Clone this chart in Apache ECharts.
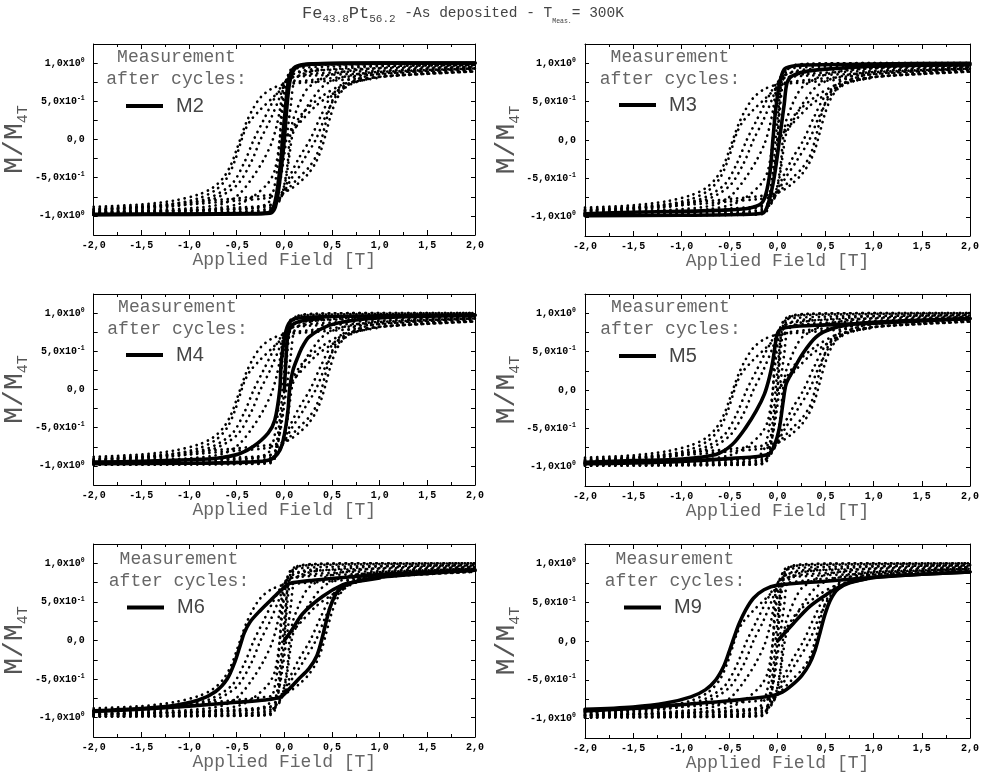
<!DOCTYPE html>
<html><head><meta charset="utf-8">
<script src="https://cdn.jsdelivr.net/npm/echarts@6/dist/echarts.min.js"></script>
<style>html,body{margin:0;padding:0;background:#fff}#c{width:982px;height:778px}</style>
</head><body><div id="c"></div>
<script>
// ---------- text / ticks ----------
const yTickValues = [-1, -0.5, 0, 0.5, 1];
const yTickMantissa = ['-1,0x10', '-5,0x10', '0,0', '5,0x10', '1,0x10'];
const yTickExponent = ['0', '-1', '', '-1', '0'];
const xAxisTitle = 'Applied Field [T]';
const panelMeasurements = ['M2', 'M3', 'M4', 'M5', 'M6', 'M9'];
const allMeasurements = ['M2', 'M3', 'M4', 'M5', 'M6', 'M7', 'M8', 'M9'];

// ---------- data: [field T, M/M4T] ----------
const M2_desc = [[-2,-0.98],[-1,-0.975],[-0.4,-0.97],[-0.17,-0.96],[-0.12,-0.9],[-0.08,-0.7],[-0.035,-0.25],[-0.02,0],[0.01,0.4],[0.035,0.7],[0.07,0.88],[0.13,0.96],[0.3,0.99],[1,1.0],[2,1.0]];
const M2_asc  = [[-2,-0.985],[-1,-0.98],[-0.4,-0.975],[-0.15,-0.965],[-0.1,-0.9],[-0.065,-0.7],[-0.025,-0.3],[0,0],[0.025,0.4],[0.05,0.7],[0.085,0.88],[0.15,0.96],[0.35,0.99],[1,1.0],[2,1.0]];
const M3_desc = [[-2,-0.96],[-1.5,-0.94],[-1,-0.93],[-0.5,-0.91],[-0.3,-0.89],[-0.17,-0.83],[-0.12,-0.7],[-0.076,-0.4],[-0.048,0],[-0.02,0.38],[0.02,0.73],[0.07,0.92],[0.15,0.96],[0.25,0.975],[1,0.99],[2,1.0]];
const M3_asc  = [[-2,-0.985],[-1,-0.98],[-0.4,-0.97],[-0.15,-0.95],[-0.09,-0.8],[-0.035,-0.49],[0.02,0],[0.07,0.47],[0.1,0.75],[0.16,0.84],[0.33,0.9],[0.6,0.93],[1,0.96],[2,0.98]];
const M4_desc = [[-2,-0.95],[-1.5,-0.94],[-1,-0.92],[-0.71,-0.9],[-0.47,-0.84],[-0.33,-0.75],[-0.17,-0.57],[-0.1,-0.4],[-0.048,0],[-0.031,0.38],[0.02,0.78],[0.08,0.91],[0.2,0.94],[0.5,0.955],[1,0.965],[2,0.975]];
const M4_asc  = [[-2,-0.97],[-1,-0.965],[-0.4,-0.95],[-0.15,-0.92],[-0.045,-0.79],[0.003,-0.57],[0.038,-0.27],[0.055,0],[0.09,0.25],[0.14,0.42],[0.19,0.56],[0.26,0.69],[0.47,0.84],[0.75,0.91],[1.2,0.95],[2,0.97]];
const M4_virgin = [[0,0],[0.015,0.35],[0.035,0.69],[0.08,0.84],[0.19,0.9],[0.4,0.93]];
const M5_desc = [[-2,-0.94],[-1.5,-0.92],[-0.99,-0.9],[-0.64,-0.84],[-0.47,-0.71],[-0.33,-0.49],[-0.22,-0.27],[-0.135,-0.05],[-0.083,0.17],[-0.048,0.38],[-0.01,0.69],[0.02,0.78],[0.125,0.82],[0.44,0.845],[1,0.87],[2,0.93]];
const M5_asc  = [[-2,-0.96],[-1.5,-0.95],[-1,-0.93],[-0.47,-0.89],[-0.1,-0.84],[-0.03,-0.71],[0.02,-0.49],[0.06,-0.14],[0.09,0.08],[0.16,0.25],[0.26,0.47],[0.4,0.69],[0.57,0.8],[0.85,0.87],[1.3,0.9],[2,0.93]];
const M6_desc = [[-2,-0.91],[-1.5,-0.88],[-1.2,-0.85],[-0.9,-0.77],[-0.72,-0.66],[-0.6,-0.5],[-0.52,-0.28],[-0.46,-0.05],[-0.42,0.1],[-0.36,0.24],[-0.26,0.38],[-0.12,0.55],[0,0.69],[0.06,0.74],[0.3,0.78],[0.75,0.83],[1.2,0.87],[2,0.91]];
const M6_asc  = [[-2,-0.92],[-1.5,-0.89],[-1,-0.85],[-0.5,-0.8],[-0.2,-0.77],[-0.04,-0.73],[0.05,-0.63],[0.15,-0.5],[0.26,-0.36],[0.34,-0.2],[0.39,0],[0.43,0.2],[0.48,0.43],[0.55,0.62],[0.65,0.72],[0.8,0.78],[1,0.82],[1.5,0.87],[2,0.91]];
const M6_virgin = [[0,0],[0.08,0.14],[0.194,0.35],[0.4,0.57],[0.61,0.72],[0.75,0.76],[1,0.81]];
const M7_desc = [[-2,-0.93],[-1.2,-0.88],[-0.75,-0.78],[-0.5,-0.6],[-0.35,-0.3],[-0.25,0],[-0.15,0.25],[-0.05,0.55],[0.02,0.78],[0.1,0.86],[0.3,0.9],[1,0.93],[2,0.95]];
const M7_asc  = [[-2,-0.96],[-1,-0.95],[-0.3,-0.93],[-0.12,-0.88],[-0.03,-0.75],[0.05,-0.5],[0.15,-0.25],[0.27,0],[0.38,0.3],[0.5,0.58],[0.7,0.8],[1,0.89],[2,0.95]];
const M8_desc = [[-2,-0.92],[-1.2,-0.86],[-0.8,-0.77],[-0.55,-0.58],[-0.42,-0.3],[-0.32,0],[-0.22,0.25],[-0.12,0.5],[-0.02,0.72],[0.05,0.8],[0.3,0.86],[1,0.9],[2,0.93]];
const M8_asc  = [[-2,-0.95],[-1,-0.93],[-0.3,-0.9],[-0.1,-0.84],[-0.02,-0.72],[0.08,-0.5],[0.2,-0.27],[0.33,0],[0.43,0.3],[0.55,0.58],[0.75,0.78],[1,0.86],[2,0.93]];
const M9_desc = [[-2,-0.88],[-1.5,-0.85],[-1.16,-0.8],[-0.9,-0.72],[-0.75,-0.63],[-0.64,-0.5],[-0.56,-0.33],[-0.5,-0.13],[-0.45,0.05],[-0.4,0.22],[-0.33,0.4],[-0.25,0.55],[-0.14,0.66],[0,0.72],[0.5,0.77],[1,0.82],[1.5,0.86],[2,0.89]];
const M9_asc  = [[-2,-0.9],[-1.5,-0.87],[-1,-0.82],[-0.5,-0.77],[-0.07,-0.71],[0.05,-0.66],[0.15,-0.57],[0.25,-0.45],[0.33,-0.3],[0.39,-0.12],[0.44,0.1],[0.49,0.33],[0.55,0.53],[0.63,0.67],[0.75,0.75],[1,0.82],[1.5,0.86],[2,0.89]];
const M9_virgin = [[0,0],[0.16,0.22],[0.33,0.44],[0.51,0.6],[0.71,0.74],[0.92,0.8]];

const branches = {
  M2: [M2_desc, M2_asc],
  M3: [M3_desc, M3_asc],
  M4: [M4_desc, M4_asc, M4_virgin],
  M5: [M5_desc, M5_asc],
  M6: [M6_desc, M6_asc, M6_virgin],
  M7: [M7_desc, M7_asc],
  M8: [M8_desc, M8_asc],
  M9: [M9_desc, M9_asc, M9_virgin]
};

// ---------- layout ----------
const grids = [
  {left: 91, top: 44, width: 384, height: 191},
  {left: 585, top: 44, width: 385, height: 192},
  {left: 91, top: 294, width: 384, height: 191},
  {left: 585, top: 294, width: 385, height: 192},
  {left: 91, top: 544, width: 384, height: 193},
  {left: 585, top: 544, width: 385, height: 194}
];
const noteCenterX = [176.5, 670, 177.5, 670.5, 179, 675];
const noteTopRel = [1.5, 1.5, 1.5, 1.5, 3.5, 3.5];
const legendLeft = [126, 619, 126, 619, 127, 624];
const legendLineY = [106, 105, 355, 356, 607.5, 607.5];

const mono = 'Liberation Mono';
const xAxes = [], yAxes = [], series = [], legends = [], graphics = [];

grids.forEach((g, i) => {
  const baseX = {
    gridIndex: i, type: 'value', min: -2, max: 2, interval: 0.5,
    axisLine: {show: true, onZero: false, lineStyle: {color: '#000', width: 1}},
    axisTick: {show: true, inside: true, length: 5, lineStyle: {color: '#000'}},
    minorTick: {show: true, splitNumber: 2, length: 3, lineStyle: {color: '#000'}},
    splitLine: {show: false}, minorSplitLine: {show: false}
  };
  xAxes.push(Object.assign({}, baseX, {
    position: 'bottom',
    name: xAxisTitle, nameLocation: 'middle', nameGap: 16,
    nameTextStyle: {fontFamily: mono, fontSize: 18, color: '#666'},
    axisLabel: {show: true, margin: 5, showMinLabel: true, showMaxLabel: true,
      fontFamily: mono, fontWeight: 'bold', fontSize: 10, color: '#000',
      formatter: v => v.toFixed(1).replace('.', ',')}
  }));
  xAxes.push(Object.assign({}, baseX, {position: 'top', axisLabel: {show: false}}));

  const baseY = {
    gridIndex: i, type: 'value', min: -1.25, max: 1.25, interval: 0.25,
    axisLine: {show: true, onZero: false, lineStyle: {color: '#000', width: 1}},
    axisTick: {show: true, inside: true, length: 4, lineStyle: {color: '#000'}},
    splitLine: {show: false}
  };
  yAxes.push(Object.assign({}, baseY, {
    position: 'left',
    name: '{a|M/M}{b|4T}', nameLocation: 'middle', nameGap: 38, nameRotate: 90,
    nameTextStyle: {rich: {
      a: {fontFamily: mono, fontSize: 28, color: '#555', lineHeight: 32},
      b: {fontFamily: mono, fontSize: 15, color: '#555', lineHeight: 15, verticalAlign: 'bottom'}
    }},
    axisLabel: {show: true, margin: 9, showMinLabel: true, showMaxLabel: true,
      formatter: v => {
        const k = yTickValues.findIndex(t => Math.abs(t - v) < 1e-6);
        if (k < 0) return '';
        return yTickExponent[k] ? `{m|${yTickMantissa[k]}}{s|${yTickExponent[k]}}` : `{m|${yTickMantissa[k]}}`;
      },
      rich: {
        m: {fontFamily: mono, fontWeight: 'bold', fontSize: 10, color: '#000', lineHeight: 13},
        s: {fontFamily: mono, fontWeight: 'bold', fontSize: 6.5, color: '#000', lineHeight: 7, verticalAlign: 'top'}
      }}
  }));
  yAxes.push(Object.assign({}, baseY, {position: 'right', axisLabel: {show: false}}));

  const hl = panelMeasurements[i];
  allMeasurements.forEach(m => {
    if (m === hl) return;
    branches[m].forEach((d, bi) => {
      series.push({
        type: 'line', name: `${m}-${i}-${bi}`, xAxisIndex: 2 * i, yAxisIndex: 2 * i,
        data: d, showSymbol: false, smooth: 0.3, silent: true, z: 2,
        color: '#000',
        lineStyle: {color: '#000', width: 2.7, type: [0.1, 6], cap: 'round'}
      });
    });
  });
  branches[hl].forEach(d => {
    series.push({
      type: 'line', name: hl, xAxisIndex: 2 * i, yAxisIndex: 2 * i,
      data: d, showSymbol: false, smooth: 0.3, silent: true, z: 5,
      color: '#000', itemStyle: {color: '#000'},
      lineStyle: {color: '#000', width: 3.6, cap: 'round', join: 'round'}
    });
  });

  legends.push({
    data: [hl], left: legendLeft[i], top: legendLineY[i] - 15, icon: 'rect',
    itemWidth: 37, itemHeight: 4, padding: 0, selectedMode: false,
    textStyle: {fontFamily: 'Liberation Sans', fontSize: 20, color: '#444', lineHeight: 24, padding: [0, 0, 6, 8]}
  });

  graphics.push({
    type: 'text', x: noteCenterX[i], y: g.top + noteTopRel[i], silent: true,
    style: {text: 'Measurement\nafter cycles:', align: 'center', verticalAlign: 'top',
      fontFamily: mono, fontSize: 18, fill: '#666', lineHeight: 22.6}
  });
});

graphics.push({
  type: 'text', x: 463, y: 1, silent: true,
  style: {
    text: '{b|Fe}{s|43.8}{b|Pt}{s|56.2}{t| -As deposited - T}{u|Meas.}{t|= 300K}',
    align: 'center', verticalAlign: 'top',
    rich: {
      b: {fontFamily: mono, fontSize: 17, fill: '#444', lineHeight: 24, verticalAlign: 'middle'},
      t: {fontFamily: mono, fontSize: 14.5, fill: '#444', lineHeight: 24, verticalAlign: 'middle'},
      s: {fontFamily: mono, fontSize: 11, fill: '#444', lineHeight: 11, verticalAlign: 'bottom'},
      u: {fontFamily: mono, fontSize: 6.5, fill: '#444', lineHeight: 7, verticalAlign: 'bottom'}
    }
  }
});

const chart = echarts.init(document.getElementById('c'), null, {renderer: 'canvas'});
chart.setOption({
  animation: false,
  backgroundColor: '#fff',
  grid: grids.map(g => Object.assign({containLabel: false}, g)),
  xAxis: xAxes, yAxis: yAxes, series: series, legend: legends, graphic: graphics
});
</script></body></html>
